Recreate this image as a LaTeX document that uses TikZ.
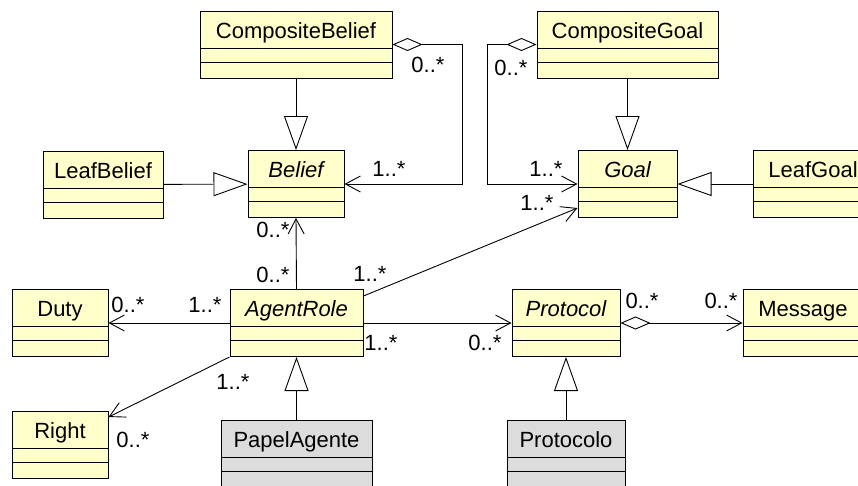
\documentclass[tikz,border=0pt]{standalone}
\usepackage{fontspec}
\setmainfont{Liberation Sans}
\usepackage{xcolor}
\usetikzlibrary{arrows.meta, calc}

\definecolor{classyellow}{RGB}{255,255,204}
\definecolor{classgray}{RGB}{220,220,220}

\tikzset{
  umlclass/.style={draw, line width=1pt, fill=classyellow, inner sep=0pt,
    minimum width=#1, text height=27pt, text depth=40pt,
    path picture={\draw[line width=1pt]
      ([yshift=-37pt]path picture bounding box.north west) -- ([yshift=-37pt]path picture bounding box.north east)
      ([yshift=-51pt]path picture bounding box.north west) -- ([yshift=-51pt]path picture bounding box.north east);}},
  mult/.style={inner sep=0pt},
  gen/.style={-{Triangle[length=34pt, width=24pt, fill=white]}},
  aggr/.style={{Diamond[length=30pt, width=13pt, fill=white]}->},
}

\begin{document}
\begin{tikzpicture}[x=1pt, y=-1pt, line width=0.9pt, >={Straight Barb[length=15pt, width=16pt]},
    every node/.style={font=\fontsize{22}{26}\selectfont}]
  \clip (0,0) rectangle (858,485);
  % classes
  \node[umlclass=192pt] (compbelief) at (296,44.5) {CompositeBelief};
  \node[umlclass=181pt] (compgoal) at (627.5,44.5) {CompositeGoal};
  \node[umlclass=120pt] (leafbelief) at (103,184.5) {LeafBelief};
  \node[umlclass=96pt] (belief) at (296,184) {\itshape Belief};
  \node[umlclass=99pt] (goal) at (627.5,184) {\itshape Goal};
  \node[umlclass=120pt] (leafgoal) at (813,184) {LeafGoal};
  \node[umlclass=96pt] (duty) at (60,323) {Duty};
  \node[umlclass=133pt] (agentrole) at (296.5,323) {\itshape AgentRole};
  \node[umlclass=108pt] (protocol) at (566,323) {\itshape Protocol};
  \node[umlclass=120pt] (message) at (803,323) {Message};
  \node[umlclass=96pt] (right) at (60,445) {Right};
  \node[umlclass=151pt, fill=classgray] (papel) at (296.5,453.5) {PapelAgente};
  \node[umlclass=118pt, fill=classgray] (protocolo) at (566,453.5) {Protocolo};

  % generalizations
  \draw[gen] (compbelief) -- (belief);
  \draw[gen] (compgoal) -- (goal);
  \draw[gen] (leafbelief) -- (belief);
  \draw[gen] (leafgoal) -- (goal);
  \draw[gen] (papel) -- (agentrole);
  \draw[gen] (protocolo) -- (protocol);

  % aggregations
  \draw[aggr] (compbelief.east) -- ++(70,0) |- (belief.east);
  \draw[aggr] (compgoal.west) -- ++(-49,0) |- (goal.west);
  \draw[aggr] (protocol.east) -- (message.west);

  % associations
  \draw[->] (agentrole.north) -- (belief.south);
  \draw[->] ([yshift=-7pt]agentrole.north east) -- ([yshift=10pt]goal.south west);
  \draw[->] (agentrole.west) -- (duty.east);
  \draw[->] (agentrole.east) -- (protocol.west);
  \draw[->] (agentrole.south west) -- ([yshift=-6pt]right.north east);

  % multiplicities
  \node[mult] (mcb) at (428,65) {0..*};
  \node[mult] (mcbb) at (389,169) {1..*};
  \node[mult] (mcg) at (511,68) {0..*};
  \node[mult] (mcgg) at (546,169) {1..*};
  \node[mult] (mbel) at (273,230) {0..*};
  \node[mult] (mbar) at (273,275) {0..*};
  \node[mult] (mgar) at (370,274) {1..*};
  \node[mult] (mgoal) at (537,203) {1..*};
  \node[mult] (mduty) at (128,305) {0..*};
  \node[mult] (mdar) at (205,305) {1..*};
  \node[mult] (mpar) at (381,343) {1..*};
  \node[mult] (mprot) at (485,343) {0..*};
  \node[mult] (mpmsg) at (642,301) {0..*};
  \node[mult] (mmsg) at (721,301) {0..*};
  \node[mult] (mrar) at (233,382) {1..*};
  \node[mult] (mright) at (133,440) {0..*};
\end{tikzpicture}
\end{document}
